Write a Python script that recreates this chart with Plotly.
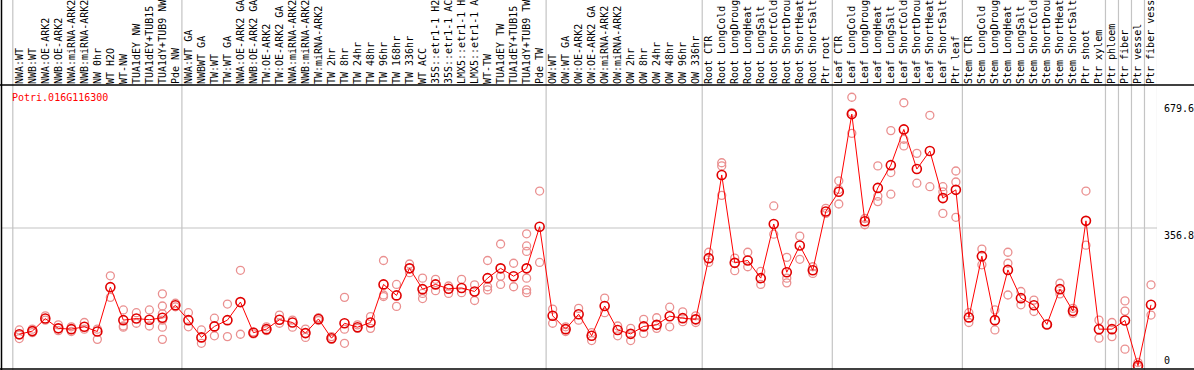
import plotly.graph_objects as go

gene = "Potri.016G116300"

labels = [
    "NWA:WT", "NWB:WT", "NWA:OE-ARK2", "NWB:OE-ARK2", "NWA:miRNA-ARK2", "NWB:miRNA-ARK2",
    "NW 0hr", "WT H2O", "WT-NW", "TUA1dEY NW", "TUA1dEY+TUB15", "TUA1dY+TUB9 NW", "Pde NW",
    "NWA:WT GA", "NWBWT GA", "TW:WT", "TW:WT GA", "NWA:OE-ARK2 GA", "NWB:OE-ARK2 GA",
    "TW:OE-ARK2", "TW:OE-ARK2 GA", "NWA:miRNA-ARK2", "NWB:miRNA-ARK2", "TW:miRNA-ARK2",
    "TW 2hr", "TW 8hr", "TW 24hr", "TW 48hr", "TW 96hr", "TW 168hr", "TW 336hr", "WT ACC",
    "35S::etr1-1 H2", "35S::etr1-1 AC", "LMX5::etr1-1 H", "LMX5::etr1-1 A", "WT-TW",
    "TUA1dEY TW", "TUA1dEY+TUB15", "TUA1dY+TUB9 TW", "Pde TW",
    "OW:WT", "OW:WT GA", "OW:OE-ARK2", "OW:OE-ARK2 GA", "OW:miRNA-ARK2", "OW:miRNA-ARK2",
    "OW 2hr", "OW 8hr", "OW 24hr", "OW 48hr", "OW 96hr", "OW 336hr",
    "Root CTR", "Root LongCold", "Root LongDroug", "Root LongHeat", "Root LongSalt",
    "Root ShortCold", "Root ShortDrou", "Root ShortHeat", "Root ShortSalt", "Ptr root",
    "Leaf CTR", "Leaf LongCold", "Leaf LongDroug", "Leaf LongHeat", "Leaf LongSalt",
    "Leaf ShortCold", "Leaf ShortDrou", "Leaf ShortHeat", "Leaf ShortSalt", "Ptr leaf",
    "Stem CTR", "Stem LongCold", "Stem LongDroug", "Stem LongHeat", "Stem LongSalt",
    "Stem ShortCold", "Stem ShortDrou", "Stem ShortHeat", "Stem ShortSalt", "Ptr shoot",
    "Ptr xylem", "Ptr phloem", "Ptr fiber", "Ptr vessel", "Ptr fiber vess",
]

means = [
    86, 94, 126, 101, 99, 105, 93, 206, 122, 126,
    123, 128, 160, 122, 78, 106, 122, 168, 90, 99,
    123, 116, 89, 125, 76, 114, 104, 116, 213, 185,
    254, 201, 213, 202, 204, 195, 229, 254, 234, 254,
    360, 133, 99, 137, 82, 158, 97, 87, 106, 110,
    132, 127, 124, 280, 492, 268, 274, 229, 367, 244,
    312, 249, 399, 449, 647, 374, 459, 517, 608, 507,
    553, 433, 454, 129, 285, 122, 250, 178, 160, 111,
    201, 145, 375, 99, 99, 121, 6, 161,
]

replicates = [
    [97, 84, 75], [99, 90], [133, 122], [110, 95], [105, 93], [116, 99], [99, 73],
    [235, 180], [148, 107, 104], [141, 114], [148, 107], [189, 158, 138, 122, 104, 73],
    [165, 156], [141, 105], [97, 63], [127, 82], [163, 80], [249, 86], [92, 87],
    [105, 95], [135, 114], [122, 104], [99, 78], [128, 121], [80, 73], [180, 99, 63],
    [110, 101], [131, 101], [274, 186, 182], [213, 157], [265, 243], [229, 190, 177],
    [226, 197], [209, 190], [226, 192], [212, 172], [274, 207, 199], [316, 234, 213],
    [267, 207], [342, 311, 297, 229, 199, 192], [451, 269], [150, 114], [105, 93],
    [152, 122], [90, 70], [178, 141], [107, 82], [101, 70], [124, 88], [128, 101],
    [155, 105], [143, 118], [133, 116], [295, 269], [523, 515, 440], [280, 248],
    [295, 258], [246, 213], [413, 341], [282, 229, 217], [336, 277], [258, 241],
    [407, 394], [477, 455, 418], [690, 651, 598], [381, 365], [515, 438, 424],
    [605, 498, 443], [676, 583, 566], [547, 471], [644, 462], [462, 449, 394],
    [502, 474, 384], [141, 116], [303, 263], [148, 97], [295, 267, 186], [195, 161],
    [173, 144], [111], [216, 189], [152, 139], [451, 313], [122, 76], [116, 80],
    [171, 145, 48], [14, 3], [212, 135],
]

y_ticks = [0, 356.8, 679.6]
group_bounds = [-0.5, 12.5, 40.5, 52.5, 62.5, 72.5, 83.5, 84.5, 85.5, 86.5, 87.5]

W, H = 1194, 370
X_L, X_R = 1, 1157
Y_T, Y_B = 85, 368
x0 = 19.3
dx = 13.008
x_range = [(X_L - x0) / dx, (X_R - x0) / dx]
y_range = [0, (Y_B - Y_T) / 0.3924]

FONT = "DejaVu Sans Mono"

rx, ry = [], []
for i, reps in enumerate(replicates):
    for v in reps:
        rx.append(i)
        ry.append(v)

fig = go.Figure()
fig.add_trace(go.Scatter(
    x=rx, y=ry, mode="markers",
    marker=dict(symbol="circle-open", size=8, color="#ea9090", line=dict(width=1.3)),
    hoverinfo="skip", showlegend=False,
))
fig.add_trace(go.Scatter(
    x=list(range(len(means))), y=means, mode="lines+markers",
    line=dict(color="#ff0000", width=1),
    marker=dict(symbol="circle-open", size=9, color="#e00000", line=dict(width=1.6)),
    showlegend=False,
))

shapes = []
for b in group_bounds:
    shapes.append(dict(type="line", xref="x", yref="paper", x0=b, x1=b, y0=0, y1=1,
                       line=dict(color="#c4c4c4", width=1.2), layer="below"))
shapes.append(dict(type="line", xref="x domain", yref="y", x0=0, x1=1,
                   y0=y_ticks[1], y1=y_ticks[1],
                   line=dict(color="#c4c4c4", width=1.2), layer="below"))
# frame lines
shapes.append(dict(type="line", xref="paper", yref="paper", x0=0, x1=1,
                   y0=(H - Y_T) / H, y1=(H - Y_T) / H, line=dict(color="black", width=1.5)))
shapes.append(dict(type="line", xref="paper", yref="paper", x0=0, x1=1,
                   y0=(H - 369) / H, y1=(H - 369) / H, line=dict(color="black", width=1.5)))
shapes.append(dict(type="line", xref="paper", yref="paper", x0=1.5 / W, x1=1.5 / W,
                   y0=0, y1=1, line=dict(color="black", width=1.5)))

annotations = [dict(
    text=gene, xref="paper", yref="paper", x=9.5 / W, y=(H - 97) / H,
    xanchor="left", yanchor="middle", showarrow=False,
    font=dict(family=FONT, size=10, color="#ff0000"),
)]
for t in y_ticks:
    annotations.append(dict(
        text=("%g" % t), xref="paper", yref="y", x=1162 / W, y=t,
        xanchor="left", yanchor=("bottom" if t == 0 else "top"), showarrow=False,
        font=dict(family=FONT, size=10, color="black"),
    ))

fig.update_layout(
    width=W, height=H,
    margin=dict(l=0, r=0, t=0, b=0, autoexpand=False),
    paper_bgcolor="white", plot_bgcolor="white",
    shapes=shapes, annotations=annotations,
    xaxis=dict(
        domain=[X_L / W, X_R / W], range=x_range, side="top", automargin=False,
        tickmode="array", tickvals=list(range(len(labels))), ticktext=labels,
        tickangle=-90, ticks="", showgrid=False, zeroline=False, showline=False,
        tickfont=dict(family=FONT, size=10, color="black"),
    ),
    yaxis=dict(
        domain=[(H - Y_B) / H, (H - Y_T) / H], range=y_range, automargin=False,
        showticklabels=False, showgrid=False, zeroline=False, showline=False,
    ),
)

fig.write_html(
    "out.html",
    config={"displayModeBar": False},
    post_script="document.body.style.margin='0px';document.body.style.overflow='hidden';",
)
